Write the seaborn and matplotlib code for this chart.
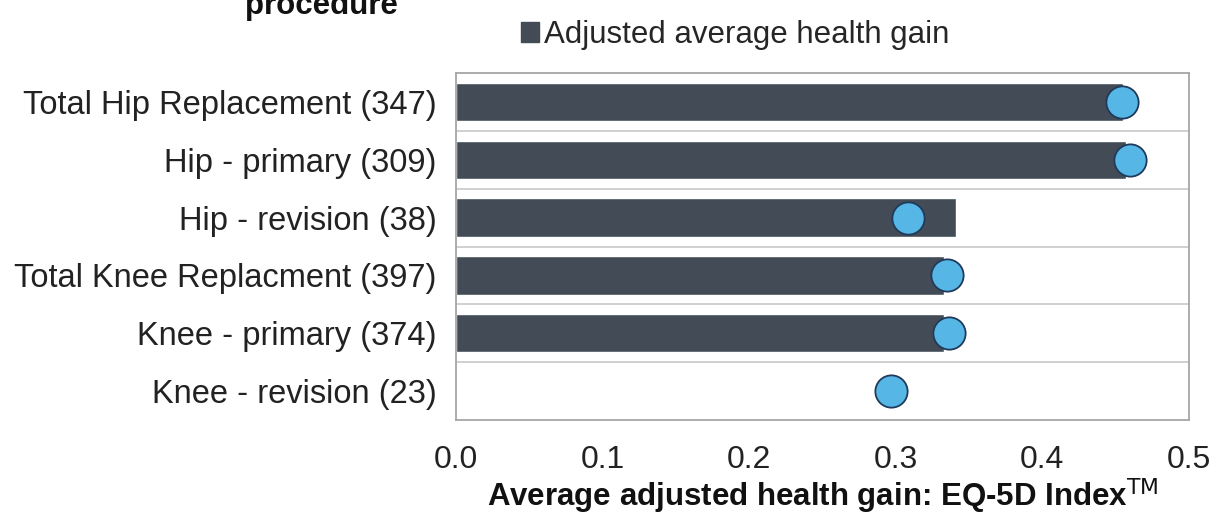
import numpy as np
import pandas as pd
import matplotlib
matplotlib.use("Agg")
import matplotlib.pyplot as plt
import seaborn as sns
from matplotlib.patches import Patch

procedures = [
    "Total Hip Replacement (347)",
    "Hip - primary (309)",
    "Hip - revision (38)",
    "Total Knee Replacment (397)",
    "Knee - primary (374)",
    "Knee - revision (23)",
]
adjusted_gain = [0.455, 0.457, 0.341, 0.333, 0.333, np.nan]
point_gain = [0.454, 0.460, 0.308, 0.335, 0.336, 0.297]
x_ticks = [0.0, 0.1, 0.2, 0.3, 0.4, 0.5]

bar_color = "#434C56"
dot_color = "#56B7E6"
dot_edge = "#1F3A5A"
frame_color = "#A6A6A6"

df = pd.DataFrame({"procedure": procedures, "adjusted": adjusted_gain, "point": point_gain})

sns.set_theme(style="white")
plt.rcParams["font.family"] = ["Liberation Sans", "DejaVu Sans"]

fig = plt.figure(figsize=(12.16, 5.19), dpi=100)
ax = fig.add_axes([456 / 1216, 1 - 420 / 519, (1189 - 456) / 1216, (420 - 73) / 519])

sns.barplot(data=df, y="procedure", x="adjusted", orient="h", color=bar_color,
            saturation=1, width=0.66, ax=ax, zorder=2)
sns.scatterplot(data=df, y="procedure", x="point", s=540, color=dot_color,
                edgecolor=dot_edge, linewidth=1.3, ax=ax, zorder=3, legend=False)

ax.set_xlim(0, 0.5)
ax.set_ylim(len(procedures) - 0.5, -0.5)
ax.set_xticks(x_ticks)
ax.set_xticklabels([f"{t:.1f}" for t in x_ticks], fontsize=23, color="#222222")
ax.set_yticks(range(len(procedures)))
ax.set_yticklabels(procedures, fontsize=23.5, color="#222222")
ax.tick_params(axis="y", length=0, pad=14)
ax.tick_params(axis="x", length=0, pad=18)

# separators between categories
for b in np.arange(0.5, len(procedures) - 0.5, 1.0):
    ax.axhline(b, color="#C8C8C8", linewidth=1.2, zorder=1)

for side in ["top", "bottom", "left", "right"]:
    ax.spines[side].set_visible(True)
    ax.spines[side].set_color(frame_color)
    ax.spines[side].set_linewidth(1.3)

ax.set_ylabel("")
ax.set_xlabel("Average adjusted health gain: EQ-5D Index$^{\\mathrm{TM}}$",
              fontsize=22.5, fontweight="bold", color="#111111", labelpad=1)

handle = Patch(facecolor=bar_color, edgecolor=bar_color)
fig.legend([handle], ["Adjusted average health gain"], loc="center",
           bbox_to_anchor=(735 / 1216, 1 - 35 / 519), frameon=False, fontsize=22.5,
           handlelength=0.6, handleheight=0.6, handletextpad=0.15)

fig.text(321 / 1216, 1 - 14 / 519, "procedure", ha="center", va="baseline",
         fontsize=22.5, fontweight="bold", color="#111111")

fig.savefig("out.png", dpi=100, facecolor="white")
